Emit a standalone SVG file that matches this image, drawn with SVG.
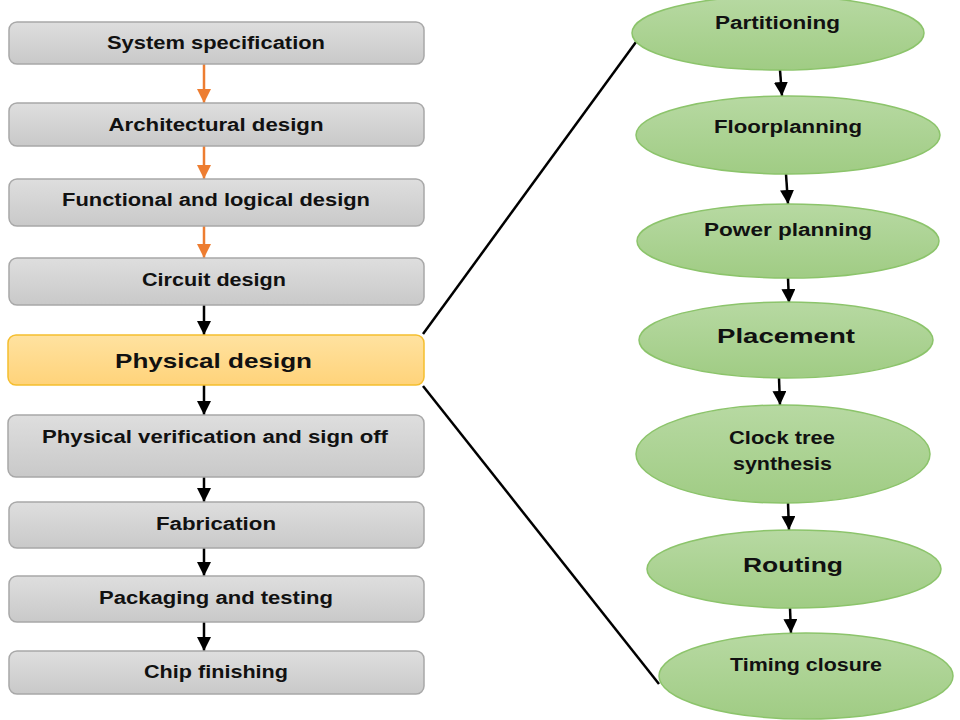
<svg xmlns="http://www.w3.org/2000/svg" width="960" height="720" viewBox="0 0 960 720">
<defs>
<linearGradient id="gGray" x1="0" y1="0" x2="0" y2="1"><stop offset="0" stop-color="#DEDEDE"/><stop offset="1" stop-color="#C9C9C9"/></linearGradient>
<linearGradient id="gYel" x1="0" y1="0" x2="0" y2="1"><stop offset="0" stop-color="#FFE2A0"/><stop offset="1" stop-color="#FFD37A"/></linearGradient>
<linearGradient id="gGrn" x1="0" y1="0" x2="0" y2="1"><stop offset="0" stop-color="#B7D9A2"/><stop offset="1" stop-color="#A0CC84"/></linearGradient>
<marker id="ahB" viewBox="0 0 10 10" refX="10" refY="5" markerWidth="14" markerHeight="14" markerUnits="userSpaceOnUse" orient="auto"><path d="M0,0 L10,5 L0,10 z" fill="#000"/></marker>
<marker id="ahO" viewBox="0 0 10 10" refX="10" refY="5" markerWidth="14" markerHeight="14" markerUnits="userSpaceOnUse" orient="auto"><path d="M0,0 L10,5 L0,10 z" fill="#ED7D31"/></marker>
</defs>
<style>
.box{fill:url(#gGray);stroke:#A8A8A8;stroke-width:1.5}
.hl{fill:url(#gYel);stroke:#F5BE2E;stroke-width:1.5}
.ell{fill:url(#gGrn);stroke:#8CC46B;stroke-width:1.5}
.t{font-family:"Liberation Sans",Arial,sans-serif;font-weight:bold;font-size:18px;fill:#111;text-anchor:middle;dominant-baseline:central}
.tb{font-size:21px}
.bk{stroke:#000;stroke-width:2.5;fill:none;marker-end:url(#ahB)}
.or{stroke:#ED7D31;stroke-width:2.5;fill:none;marker-end:url(#ahO)}
.ln{stroke:#000;stroke-width:2.5;fill:none}
</style>
<rect width="960" height="720" fill="#fff"/>
<g id="connectors">
<line class="or" x1="204" y1="64" x2="204" y2="103"/>
<line class="or" x1="204" y1="146" x2="204" y2="179"/>
<line class="or" x1="204" y1="226" x2="204" y2="258"/>
<line class="bk" x1="204" y1="305" x2="204" y2="335"/>
<line class="bk" x1="204" y1="385" x2="204" y2="415"/>
<line class="bk" x1="204" y1="477" x2="204" y2="502"/>
<line class="bk" x1="204" y1="548" x2="204" y2="576"/>
<line class="bk" x1="204" y1="622" x2="204" y2="651"/>
<line class="ln" x1="423" y1="334" x2="636" y2="42"/>
<line class="ln" x1="423" y1="386" x2="659" y2="684"/>
<line class="bk" x1="780" y1="70" x2="782" y2="96"/>
<line class="bk" x1="786" y1="174" x2="788" y2="204"/>
<line class="bk" x1="788" y1="278" x2="789" y2="303"/>
<line class="bk" x1="779" y1="378" x2="780" y2="405"/>
<line class="bk" x1="788" y1="503" x2="789" y2="530"/>
<line class="bk" x1="790" y1="608" x2="791" y2="633"/>
</g>
<g id="n-system"><rect class="box" x="9" y="22" width="415" height="42" rx="8"/><text class="t" x="216" y="43" textLength="218" lengthAdjust="spacingAndGlyphs">System specification</text></g>
<g id="n-arch"><rect class="box" x="9" y="103" width="415" height="43" rx="8"/><text class="t" x="216" y="125" textLength="215" lengthAdjust="spacingAndGlyphs">Architectural design</text></g>
<g id="n-func"><rect class="box" x="9" y="179" width="415" height="47" rx="8"/><text class="t" x="216" y="200" textLength="308" lengthAdjust="spacingAndGlyphs">Functional and logical design</text></g>
<g id="n-circuit"><rect class="box" x="9" y="258" width="415" height="47" rx="8"/><text class="t" x="214" y="280" textLength="144" lengthAdjust="spacingAndGlyphs">Circuit design</text></g>
<g id="n-physical"><rect class="hl" x="8" y="335" width="416" height="50" rx="8"/><text class="t tb" x="213.5" y="360" textLength="197" lengthAdjust="spacingAndGlyphs">Physical design</text></g>
<g id="n-verif"><rect class="box" x="8" y="415" width="416" height="62" rx="8"/><text class="t" x="215" y="437" textLength="346" lengthAdjust="spacingAndGlyphs">Physical verification and sign off</text></g>
<g id="n-fab"><rect class="box" x="9" y="502" width="415" height="46" rx="8"/><text class="t" x="216" y="524" textLength="120" lengthAdjust="spacingAndGlyphs">Fabrication</text></g>
<g id="n-pack"><rect class="box" x="9" y="576" width="415" height="46" rx="8"/><text class="t" x="216" y="598" textLength="234" lengthAdjust="spacingAndGlyphs">Packaging and testing</text></g>
<g id="n-chip"><rect class="box" x="9" y="651" width="415" height="43" rx="8"/><text class="t" x="216" y="672" textLength="144" lengthAdjust="spacingAndGlyphs">Chip finishing</text></g>
<g id="n-part"><ellipse class="ell" cx="778" cy="33" rx="146" ry="37"/><text class="t" x="777.5" y="23" textLength="125" lengthAdjust="spacingAndGlyphs">Partitioning</text></g>
<g id="n-floor"><ellipse class="ell" cx="788" cy="135" rx="152" ry="39"/><text class="t" x="788" y="127" textLength="148" lengthAdjust="spacingAndGlyphs">Floorplanning</text></g>
<g id="n-power"><ellipse class="ell" cx="788" cy="241" rx="151" ry="37"/><text class="t" x="788" y="230" textLength="168" lengthAdjust="spacingAndGlyphs">Power planning</text></g>
<g id="n-place"><ellipse class="ell" cx="786" cy="340" rx="147" ry="38"/><text class="t tb" x="786" y="335" textLength="138" lengthAdjust="spacingAndGlyphs">Placement</text></g>
<g id="n-cts"><ellipse class="ell" cx="783" cy="454" rx="147" ry="49"/><text class="t" x="782" y="438" textLength="106" lengthAdjust="spacingAndGlyphs">Clock tree</text><text class="t" x="782.5" y="464" textLength="99" lengthAdjust="spacingAndGlyphs">synthesis</text></g>
<g id="n-route"><ellipse class="ell" cx="794" cy="569" rx="147" ry="39"/><text class="t tb" x="793" y="564" textLength="100" lengthAdjust="spacingAndGlyphs">Routing</text></g>
<g id="n-timing"><ellipse class="ell" cx="806" cy="676" rx="147" ry="43"/><text class="t" x="806" y="665" textLength="152" lengthAdjust="spacingAndGlyphs">Timing closure</text></g>
</svg>
